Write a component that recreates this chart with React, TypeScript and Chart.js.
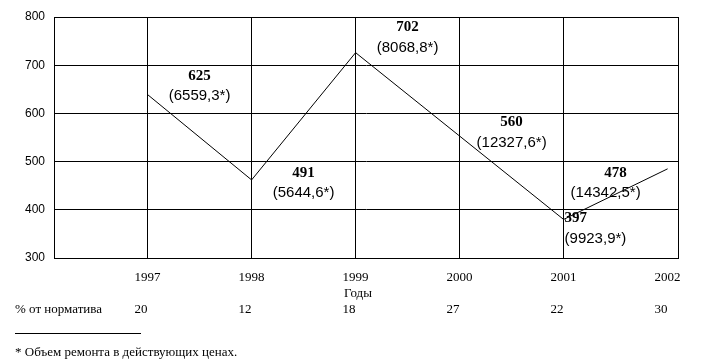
import React, { useEffect, useRef } from "react";
import { Chart, registerables } from "chart.js";

Chart.register(...registerables);

// ---- data ----
const YEARS = [1997, 1998, 1999, 2000, 2001, 2002];
const LINE_VALUES: (number | null)[] = [639, 462, 726, null, 380, 485];
const ANNOT_MAIN = ["625", "491", "702", "560", "397", "478"];
const ANNOT_SUB = ["(6559,3*)", "(5644,6*)", "(8068,8*)", "(12327,6*)", "(9923,9*)", "(14342,5*)"];
const PCT_NORM = ["20", "12", "18", "27", "22", "30"];
const Y_MIN = 300;
const Y_MAX = 800;
const Y_STEP = 100;
const X_TITLE = "Годы";
const ROW_TITLE = "% от норматива";
const FOOTNOTE = "* Объем ремонта в действующих ценах.";

// ---- layout of annotation texts (not data) ----
const ANNOT_PLACE: { x: number; y: number; align: CanvasTextAlign; dx?: number; subDx?: number }[] = [
  { x: 1997.5, y: 678, align: "center" },
  { x: 1998.5, y: 477, align: "center" },
  { x: 1999.5, y: 778, align: "center" },
  { x: 2000.5, y: 581, align: "center" },
  { x: 2001, y: 382, align: "left", dx: 1 },
  { x: 2001.5, y: 477, align: "center", subDx: -10 },
];

const SERIF = "'Liberation Serif', 'Times New Roman', serif";
const SANS = "'Liberation Sans', Arial, sans-serif";

const textPlugin = {
  id: "texts",
  beforeDatasetsDraw(chart: any) {
    const { ctx, chartArea } = chart;
    ctx.save();
    ctx.strokeStyle = "#000";
    ctx.lineWidth = 1;
    ctx.strokeRect(
      Math.floor(chartArea.left) + 0.5,
      Math.floor(chartArea.top) + 0.5,
      Math.floor(chartArea.right) - Math.floor(chartArea.left),
      Math.floor(chartArea.bottom) - Math.floor(chartArea.top)
    );
    ctx.restore();
  },
  afterDatasetsDraw(chart: any) {
    const { ctx, chartArea, scales } = chart;
    const xs = scales.x;
    const ys = scales.y;
    ctx.save();
    ctx.fillStyle = "#000";
    ctx.textBaseline = "middle";

    ANNOT_MAIN.forEach((t, i) => {
      const p = ANNOT_PLACE[i];
      const px = xs.getPixelForValue(p.x) + (p.dx || 0);
      const py = ys.getPixelForValue(p.y);
      ctx.textAlign = p.align;
      ctx.font = `bold 15px ${SERIF}`;
      ctx.fillText(t, px, py);
      ctx.font = `15px ${SANS}`;
      ctx.fillText(ANNOT_SUB[i], px + (p.subDx || 0), py + 20);
    });

    ctx.font = `13px ${SERIF}`;
    YEARS.forEach((yr, i) => {
      const px = xs.getPixelForValue(yr);
      const label = String(yr);
      const w = ctx.measureText(label).width;
      ctx.textAlign = "center";
      ctx.fillText(label, px, chartArea.bottom + 20);
      ctx.textAlign = "left";
      ctx.fillText(PCT_NORM[i], px - w / 2, chartArea.bottom + 52);
    });

    ctx.textAlign = "center";
    ctx.fillText(X_TITLE, (chartArea.left + chartArea.right) / 2 - 8, chartArea.bottom + 36);

    ctx.textAlign = "left";
    ctx.fillText(ROW_TITLE, 15, chartArea.bottom + 52);

    ctx.strokeStyle = "#000";
    ctx.lineWidth = 1;
    ctx.beginPath();
    ctx.moveTo(15, chartArea.bottom + 75.5);
    ctx.lineTo(141, chartArea.bottom + 75.5);
    ctx.stroke();

    ctx.font = `13px ${SERIF}`;
    ctx.fillText(FOOTNOTE, 15, chartArea.bottom + 95);
    ctx.restore();
  },
};

export default function App() {
  const ref = useRef<HTMLCanvasElement | null>(null);

  useEffect(() => {
    if (!ref.current) return;
    const chart = new Chart(ref.current, {
      type: "line",
      data: {
        datasets: [
          {
            data: YEARS.map((x, i) => ({ x, y: LINE_VALUES[i] as any })),
            borderColor: "#000",
            borderWidth: 1,
            pointRadius: 0,
            tension: 0,
            spanGaps: true,
            fill: false,
          },
        ],
      },
      options: {
        animation: false,
        responsive: false,
        maintainAspectRatio: false,
        layout: { padding: { left: 0, top: 17, right: 23, bottom: 103 } },
        plugins: {
          legend: { display: false },
          tooltip: { enabled: false },
        },
        scales: {
          x: {
            type: "linear",
            min: YEARS[0] - 0.9,
            max: YEARS[YEARS.length - 1] + 0.1,
            afterBuildTicks: (scale: any) => {
              scale.ticks = YEARS.map((v) => ({ value: v }));
            },
            afterFit: (scale: any) => {
              scale.height = 0;
            },
            ticks: { display: false },
            grid: {
              drawTicks: false,
              color: (c: any) =>
                c.tick && c.tick.value === YEARS[YEARS.length - 1] ? "rgba(0,0,0,0)" : "#000",
              lineWidth: 1,
            },
            border: { display: true, color: "#000", width: 1 },
          },
          y: {
            min: Y_MIN,
            max: Y_MAX,
            afterFit: (scale: any) => {
              scale.width = 54;
            },
            ticks: {
              stepSize: Y_STEP,
              color: "#000",
              padding: 9,
              font: { family: SANS, size: 12 },
            },
            grid: { drawTicks: false, color: "#000", lineWidth: 1 },
            border: { display: true, color: "#000", width: 1 },
          },
        },
      },
      plugins: [textPlugin],
    });
    return () => chart.destroy();
  }, []);

  return (
    <div style={{ position: "fixed", left: 0, top: 0, width: 701, height: 361, background: "#fff" }}>
      <canvas ref={ref} width={701} height={361} style={{ display: "block" }} />
    </div>
  );
}
